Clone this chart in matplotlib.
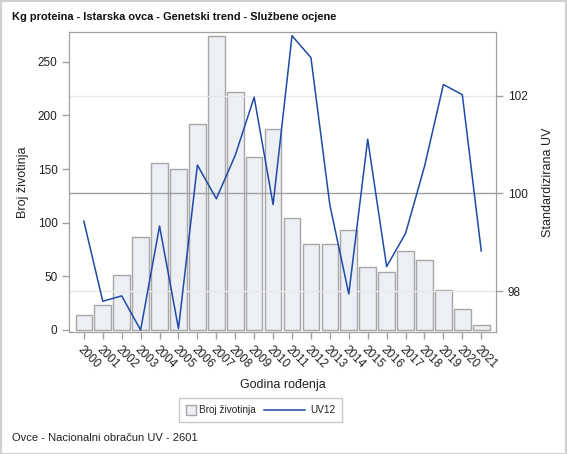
import matplotlib.pyplot as plt
from matplotlib.lines import Line2D
from matplotlib.patches import Rectangle

plt.rcParams['font.family'] = ['Liberation Sans', 'DejaVu Sans']

godine = ['2000', '2001', '2002', '2003', '2004', '2005', '2006', '2007', '2008', '2009', '2010',
          '2011', '2012', '2013', '2014', '2015', '2016', '2017', '2018', '2019', '2020', '2021']
broj = [14, 23, 51, 87, 156, 150, 192, 274, 222, 161, 187,
        104, 80, 80, 93, 59, 54, 74, 65, 37, 20, 5]
uv12 = [99.43, 97.79, 97.90, 97.20, 99.33, 97.23, 100.58, 99.89, 100.78, 101.97, 99.77,
        103.23, 102.78, 99.76, 97.94, 101.11, 98.50, 99.18, 100.55, 102.23, 102.02, 98.82]

W, H = 567, 454
fig = plt.figure(figsize=(W / 100, H / 100), dpi=100)
ax = fig.add_axes([0.1222, 0.2687, 0.7526, 0.6613])
ax2 = ax.twinx()

x = list(range(len(godine)))
ax.bar(x, broj, width=0.88, color='#eceff4', edgecolor='#a6a6a6', linewidth=1, zorder=2)

# desna os - mreza i referentna linija
for v in [98, 102]:
    ax2.axhline(v, color='#e8e8e8', linewidth=1, zorder=0)
ax2.axhline(100, color='#a0a0a0', linewidth=1, zorder=1)
ax2.plot(x, uv12, color='#1f4aa8', linewidth=1.1, zorder=3)
ax2.patch.set_visible(False)

ax.set_xlim(-0.77, 21.78)
ax.set_ylim(-1.9, 278)
ax2.set_ylim(97.16, 103.31)

ax.set_yticks([0, 50, 100, 150, 200, 250])
ax2.set_yticks([98, 100, 102])
ax.set_xticks(x)
ax.set_xticklabels(godine, rotation=-45, ha='left', va='top', rotation_mode='anchor')

for a in (ax, ax2):
    for s in a.spines.values():
        s.set_color('#a0a0a0')
    a.tick_params(colors='#a0a0a0', labelcolor='#222222', labelsize=8.5, length=5, width=1)

ax.set_ylabel('Broj životinja', fontsize=9, color='#222222', labelpad=6)
ax2.set_ylabel('Standardizirana UV', fontsize=9, color='#222222', labelpad=10)
ax.set_xlabel('Godina rođenja', fontsize=9, color='#222222', labelpad=6)

# legenda (rucno, u pikselima figure)
def px(xp, yp):
    return xp / W, 1 - yp / H

fig.patches.append(Rectangle(px(179, 422), 163 / W, 24 / H, transform=fig.transFigure,
                             fill=False, edgecolor='#c8c8c8', linewidth=1))
fig.patches.append(Rectangle(px(186, 415), 10 / W, 10 / H, transform=fig.transFigure,
                             facecolor='#eceff4', edgecolor='#a6a6a6', linewidth=1))
fig.text(*px(199, 410), 'Broj životinja', fontsize=7.2, ha='left', va='center', color='#222222')
lx0, ly = px(264, 410)
lx1, _ = px(305, 410)
fig.lines.append(Line2D([lx0, lx1], [ly, ly], transform=fig.transFigure,
                        color='#1f4aa8', linewidth=1.1))
fig.text(*px(310, 410), 'UV12', fontsize=7.2, ha='left', va='center', color='#222222')

fig.text(0.021, 0.962, 'Kg proteina - Istarska ovca - Genetski trend - Službene ocjene',
         fontsize=7.9, fontweight='bold', ha='left', va='center', color='#111111')
fig.text(0.021, 0.035, 'Ovce - Nacionalni obračun UV - 2601', fontsize=8,
         ha='left', va='center', color='#222222')

fig.patches.append(Rectangle((0.001, 0.001), 0.997, 0.997, transform=fig.transFigure,
                             fill=False, edgecolor='#d0d0d0', linewidth=1.5))

fig.savefig('out.png', dpi=100)
